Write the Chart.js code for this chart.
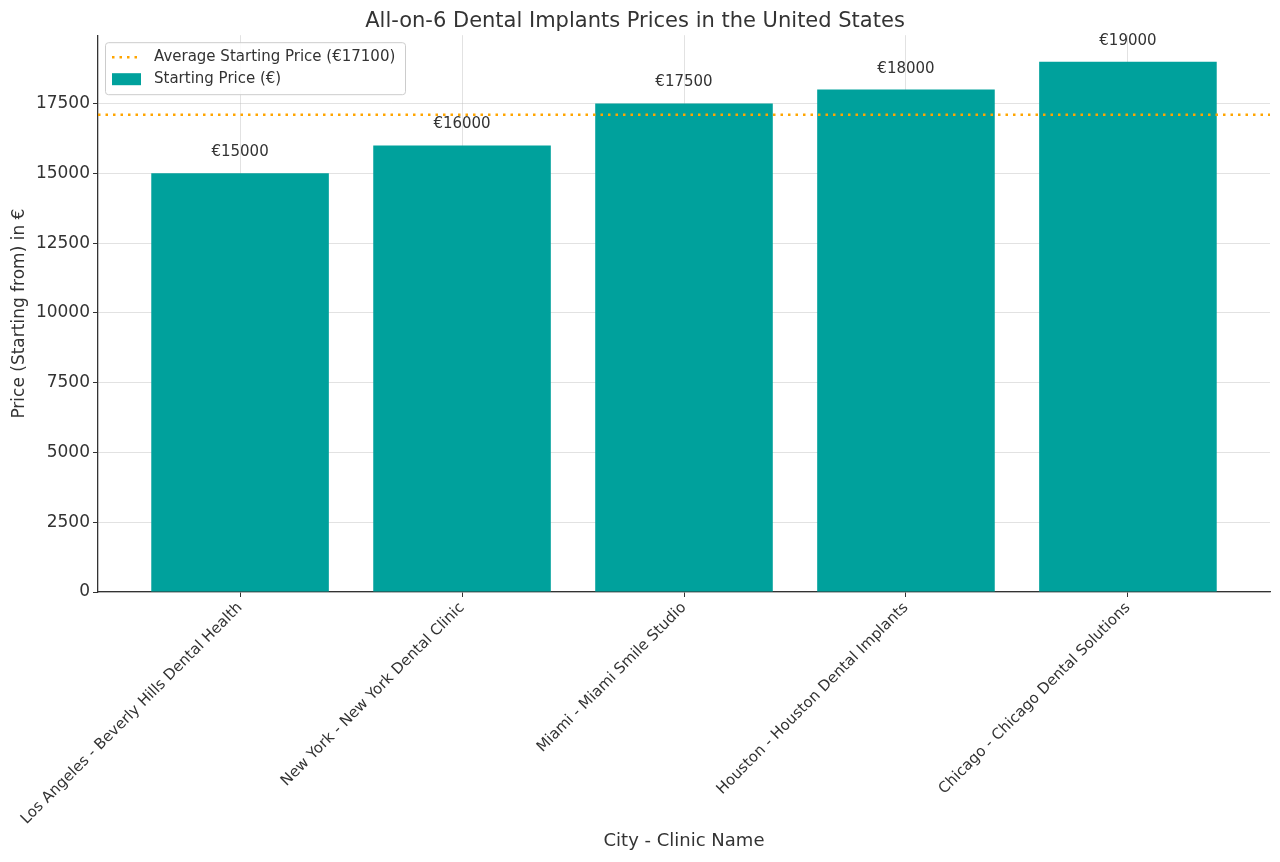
<!DOCTYPE html>
<html>
<head>
<meta charset="utf-8">
<script src="https://cdn.jsdelivr.net/npm/chart.js@4/dist/chart.umd.min.js"></script>
<style>
  html, body { margin: 0; padding: 0; background: #fff; }
  #wrap { width: 1280px; height: 862px; }
</style>
</head>
<body>
<div id="wrap"><canvas id="prices"></canvas></div>
<script>
const clinics = [
  'Los Angeles - Beverly Hills Dental Health',
  'New York - New York Dental Clinic',
  'Miami - Miami Smile Studio',
  'Houston - Houston Dental Implants',
  'Chicago - Chicago Dental Solutions'
];
const prices = [15000, 16000, 17500, 18000, 19000];
const averagePrice = 17100;
const yTicks = [0, 2500, 5000, 7500, 10000, 12500, 15000, 17500];

const teal = '#00a19c';
const orange = '#ffa500';
const ink = '#333333';
Chart.defaults.font.family = '"DejaVu Sans", sans-serif';
Chart.defaults.color = ink;

// value labels above each bar
const valueLabels = {
  id: 'valueLabels',
  afterDatasetsDraw(chart) {
    const ctx = chart.ctx;
    const meta = chart.getDatasetMeta(1);
    ctx.save();
    ctx.font = '15px "DejaVu Sans"';
    ctx.fillStyle = ink;
    ctx.textAlign = 'center';
    ctx.textBaseline = 'middle';
    meta.data.forEach((bar, i) => {
      ctx.fillText('€' + prices[i], bar.x, bar.y - 21);
    });
    ctx.restore();
  }
};

// legend box in the upper left of the plot
const boxLegend = {
  id: 'boxLegend',
  afterDraw(chart) {
    const ctx = chart.ctx;
    const a = chart.chartArea;
    const x = a.left + 7, y = a.top + 7, w = 300, h = 52;
    ctx.save();
    ctx.fillStyle = 'rgba(255,255,255,0.85)';
    ctx.strokeStyle = '#cccccc';
    ctx.lineWidth = 1;
    ctx.beginPath();
    ctx.roundRect(x + 0.5, y + 0.5, w, h, 3);
    ctx.fill();
    ctx.stroke();

    ctx.strokeStyle = orange;
    ctx.lineWidth = 2.5;
    ctx.setLineDash([2.5, 5]);
    ctx.beginPath();
    ctx.moveTo(x + 7, y + 15);
    ctx.lineTo(x + 36, y + 15);
    ctx.stroke();
    ctx.setLineDash([]);

    ctx.fillStyle = teal;
    ctx.fillRect(x + 7, y + 31, 29, 12);

    ctx.fillStyle = ink;
    ctx.font = '15px "DejaVu Sans"';
    ctx.textBaseline = 'middle';
    ctx.fillText('Average Starting Price (€' + averagePrice + ')', x + 49, y + 15);
    ctx.fillText('Starting Price (€)', x + 49, y + 37);
    ctx.restore();
  }
};

new Chart(document.getElementById('prices'), {
  data: {
    datasets: [
      {
        type: 'line',
        label: 'Average Starting Price (€' + averagePrice + ')',
        data: [{ x: -0.64, y: averagePrice }, { x: 4.64, y: averagePrice }],
        borderColor: orange,
        borderWidth: 2.5,
        borderDash: [2.5, 5],
        pointRadius: 0,
        order: 0
      },
      {
        type: 'bar',
        label: 'Starting Price (€)',
        data: prices.map((p, i) => ({ x: i, y: p })),
        backgroundColor: teal,
        borderWidth: 0,
        categoryPercentage: 0.8,
        barPercentage: 1,
        order: 1
      }
    ]
  },
  options: {
    responsive: true,
    maintainAspectRatio: false,
    animation: false,
    layout: { padding: { right: 10 } },
    plugins: {
      legend: { display: false },
      tooltip: { enabled: false },
      title: {
        display: true,
        text: 'All-on-6 Dental Implants Prices in the United States',
        color: ink,
        font: { size: 21, weight: 'normal' },
        padding: { top: 9, bottom: 1 }
      }
    },
    scales: {
      x: {
        type: 'linear',
        min: -0.64,
        max: 4.64,
        offset: false,
        z: 1,
        afterBuildTicks: (scale) => {
          scale.ticks = clinics.map((c, i) => ({ value: i }));
        },
        afterFit: (scale) => { scale.height = 270; },
        ticks: {
          autoSkip: false,
          minRotation: 45,
          maxRotation: 45,
          padding: 2,
          color: ink,
          font: { size: 15 },
          callback: (value) => clinics[value]
        },
        grid: {
          offset: false,
          color: 'rgba(190,190,190,0.45)',
          borderDash: [4, 2],
          tickLength: 5,
          tickColor: ink,
          tickBorderDash: []
        },
        border: { color: ink, width: 1.3 },
        title: {
          display: true,
          text: 'City - Clinic Name',
          color: ink,
          font: { size: 18 },
          padding: { top: 4, bottom: 10 }
        }
      },
      y: {
        min: 0,
        max: 19950,
        z: 1,
        afterBuildTicks: (scale) => {
          scale.ticks = yTicks.map(v => ({ value: v }));
        },
        afterFit: (scale) => { scale.width = 98; },
        ticks: {
          padding: 3,
          color: ink,
          font: { size: 17 },
          callback: (value) => String(value)
        },
        grid: {
          color: 'rgba(190,190,190,0.45)',
          borderDash: [4, 2],
          tickLength: 5,
          tickColor: ink,
          tickBorderDash: []
        },
        border: { color: ink, width: 1.3 },
        title: {
          display: true,
          text: 'Price (Starting from) in €',
          color: ink,
          font: { size: 17 },
          padding: { top: 9, bottom: 4 }
        }
      }
    }
  },
  plugins: [valueLabels, boxLegend]
});
</script>
</body>
</html>
